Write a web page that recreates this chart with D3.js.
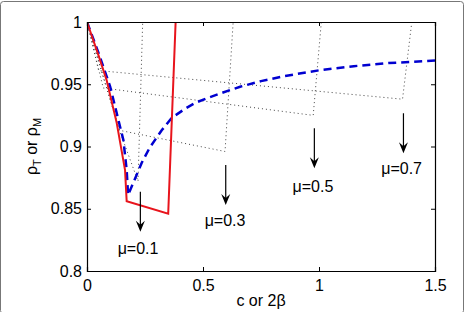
<!DOCTYPE html>
<html>
<head>
<meta charset="utf-8">
<script src="https://cdn.jsdelivr.net/npm/d3@7"></script>
<style>
  body { margin: 0; background: #fff; }
  svg { display: block; font-family: "Liberation Sans", Arial, sans-serif; }
</style>
</head>
<body>
<svg width="468" height="312"></svg>
<script>
// red solid curve (rho_T)
var redX = [0, 0.05, 0.085, 0.128, 0.164, 0.171, 0.35, 0.382];
var redY = [1, 0.973, 0.953, 0.919, 0.881, 0.856, 0.846, 1.0];

// blue dashed curve (rho_M)
var blueX = [0, 0.05, 0.1, 0.157, 0.171, 0.177, 0.2, 0.236, 0.27, 0.322, 0.365, 0.42, 0.466,
             0.52, 0.58, 0.66, 0.75, 0.85, 1.0, 1.15, 1.3, 1.5];
var blueY = [1, 0.975, 0.948, 0.905, 0.881, 0.861, 0.871, 0.887, 0.899, 0.913, 0.923, 0.93, 0.935,
             0.939, 0.943, 0.948, 0.9525, 0.9565, 0.9612, 0.9645, 0.967, 0.969];

// dotted curves, one per mu
var mu01X = [0, 0.07, 0.14, 0.22, 0.24];
var mu01Y = [1, 0.956, 0.913, 0.872, 1];
var mu03X = [0, 0.07, 0.14, 0.595, 0.63];
var mu03Y = [1, 0.956, 0.913, 0.896, 1];
var mu05X = [0, 0.07, 0.975, 1.01];
var mu05Y = [1, 0.947, 0.925, 1];
var mu07X = [0, 0.05, 1.36, 1.40];
var mu07Y = [1, 0.961, 0.938, 1];

// annotations
var muLabels = ["\u03bc=0.1", "\u03bc=0.3", "\u03bc=0.5", "\u03bc=0.7"];
var labelX = [0.22, 0.595, 0.974, 1.356];
var labelY = [0.8185, 0.841, 0.8677, 0.8825];
var arrowX = [0.23, 0.598, 0.98, 1.364];
var arrowTop = [0.8637, 0.8851, 0.9146, 0.9267];
var arrowBottom = [0.8316, 0.853, 0.8825, 0.8945];

var xTicks = [0, 0.5, 1, 1.5];
var yTicks = [0.8, 0.85, 0.9, 0.95, 1];

var svg = d3.select("svg");
var margin = {top: 22, right: 33, bottom: 41, left: 87},
    width = 468 - margin.left - margin.right,
    height = 312 - margin.top - margin.bottom;

// outer frame
svg.append("rect")
    .attr("x", 0.5).attr("y", 1.5)
    .attr("width", 463).attr("height", 312)
    .attr("rx", 3)
    .attr("fill", "none")
    .attr("stroke", "#777");

var x = d3.scaleLinear().domain([0, 1.5]).range([0, width]);
var y = d3.scaleLinear().domain([0.8, 1]).range([height, 0]);

var g = svg.append("g")
    .attr("transform", "translate(" + margin.left + "," + margin.top + ")");

g.append("clipPath").attr("id", "clip")
    .append("rect").attr("width", width).attr("height", height);

var line = d3.line()
    .x(function (d) { return x(d[0]); })
    .y(function (d) { return y(d[1]); });

function pairs(xs, ys) {
    return xs.map(function (v, i) { return [v, ys[i]]; });
}

var plot = g.append("g").attr("clip-path", "url(#clip)");

[[mu01X, mu01Y], [mu03X, mu03Y], [mu05X, mu05Y], [mu07X, mu07Y]].forEach(function (s) {
    plot.append("path")
        .datum(pairs(s[0], s[1]))
        .attr("d", line)
        .attr("fill", "none")
        .attr("stroke", "#444")
        .attr("stroke-width", 1)
        .attr("stroke-dasharray", "1,3");
});

plot.append("path")
    .datum(pairs(blueX, blueY))
    .attr("d", line)
    .attr("fill", "none")
    .attr("stroke", "#0000d0")
    .attr("stroke-width", 2.5)
    .attr("stroke-dasharray", "8,5");

plot.append("path")
    .datum(pairs(redX, redY))
    .attr("d", line)
    .attr("fill", "none")
    .attr("stroke", "#e8141c")
    .attr("stroke-width", 2);

// axes, MATLAB style box with ticks inside
g.append("g")
    .attr("transform", "translate(0," + height + ")")
    .call(d3.axisBottom(x).tickValues(xTicks).tickSize(-4).tickPadding(9)
        .tickFormat(d3.format("")));
g.append("g")
    .call(d3.axisTop(x).tickValues(xTicks).tickSize(-4).tickFormat(""));
g.append("g")
    .call(d3.axisLeft(y).tickValues(yTicks).tickSize(-4).tickPadding(5)
        .tickFormat(d3.format("")));
g.append("g")
    .attr("transform", "translate(" + width + ",0)")
    .call(d3.axisRight(y).tickValues(yTicks).tickSize(-4).tickFormat(""));

g.selectAll(".domain").attr("stroke", "#000").attr("stroke-width", 1.2);
g.selectAll(".tick line").attr("stroke", "#000");
g.selectAll(".tick text")
    .attr("font-size", 16)
    .attr("fill", "#000")
    .attr("font-family", "Liberation Sans, Arial, sans-serif");

// arrows
arrowX.forEach(function (v, i) {
    var ax = x(v), y0 = y(arrowTop[i]), y1 = y(arrowBottom[i]);
    g.append("line")
        .attr("x1", ax).attr("x2", ax)
        .attr("y1", y0).attr("y2", y1 - 4)
        .attr("stroke", "#000").attr("stroke-width", 1.2);
    g.append("path")
        .attr("d", "M" + ax + "," + y1 + " L" + (ax - 4.5) + "," + (y1 - 11) +
            " L" + ax + "," + (y1 - 7) + " L" + (ax + 4.5) + "," + (y1 - 11) + " Z")
        .attr("fill", "#000");
});

// mu labels
muLabels.forEach(function (t, i) {
    g.append("text")
        .attr("x", x(labelX[i]))
        .attr("y", y(labelY[i]))
        .attr("dy", "0.35em")
        .attr("text-anchor", "middle")
        .attr("font-size", 16)
        .text(t);
});

// axis titles
svg.append("text")
    .attr("x", margin.left + width / 2)
    .attr("y", 306)
    .attr("text-anchor", "middle")
    .attr("font-size", 16)
    .text("c or 2\u03b2");

var yl = svg.append("text")
    .attr("transform", "translate(37," + (margin.top + height / 2) + ") rotate(-90)")
    .attr("text-anchor", "middle")
    .attr("font-size", 16);
yl.append("tspan").text("\u03c1");
yl.append("tspan").attr("font-size", 11).attr("dy", 4).text("T");
yl.append("tspan").attr("dy", -4).text(" or \u03c1");
yl.append("tspan").attr("font-size", 11).attr("dy", 4).text("M");
</script>
</body>
</html>
